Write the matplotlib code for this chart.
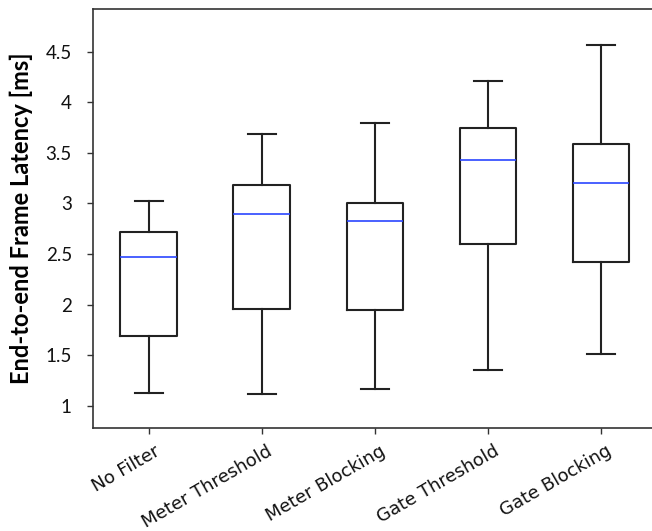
import matplotlib
matplotlib.use("Agg")
import matplotlib.pyplot as plt
import matplotlib.transforms as mtransforms

categories = ["No Filter", "Meter Threshold", "Meter Blocking", "Gate Threshold", "Gate Blocking"]
whisker_low = [1.13, 1.12, 1.17, 1.35, 1.51]
q1 = [1.69, 1.96, 1.95, 2.60, 2.42]
median = [2.47, 2.90, 2.83, 3.43, 3.20]
q3 = [2.72, 3.18, 3.00, 3.75, 3.59]
whisker_high = [3.02, 3.69, 3.80, 4.21, 4.57]
yticks = [1, 1.5, 2, 2.5, 3, 3.5, 4, 4.5]
ytick_labels = ["1", "1.5", "2", "2.5", "3", "3.5", "4", "4.5"]

stats = []
for i, name in enumerate(categories):
    stats.append(dict(label=name, whislo=whisker_low[i], q1=q1[i], med=median[i],
                      q3=q3[i], whishi=whisker_high[i], fliers=[]))

fig = plt.figure(figsize=(6.52, 5.31), dpi=100)
ax = fig.add_axes([0.1422, 0.1934, 0.8578, 0.7896])

line_col = "#222222"
ax.bxp(stats, widths=0.5, showfliers=False,
       boxprops=dict(color=line_col, linewidth=1.5),
       whiskerprops=dict(color=line_col, linewidth=1.5),
       capprops=dict(color=line_col, linewidth=1.5),
       medianprops=dict(color="#2a45ff", linewidth=1.2))

ax.set_xlim(0.505, 5.451)
ax.set_ylim(0.777, 4.922)
ax.set_yticks(yticks)
ax.set_yticklabels(ytick_labels, fontfamily="Lato", fontsize=13.5)
ax.tick_params(axis="y", direction="out", length=4, width=1, pad=11, colors="#333333", labelcolor="#111111")
ax.tick_params(axis="x", direction="out", length=4, width=1, pad=6, colors="#333333", labelcolor="#111111")

for lab in ax.get_xticklabels():
    lab.set_rotation(30)
    lab.set_rotation_mode("anchor")
    lab.set_ha("right")
    lab.set_va("top")
    lab.set_fontsize(13)
    lab.set_fontfamily("DejaVu Sans")
    lab.set_transform(lab.get_transform() + mtransforms.ScaledTranslation(5/100, 0, fig.dpi_scale_trans))

for s in ["left", "top", "bottom"]:
    ax.spines[s].set_linewidth(1.2)
    ax.spines[s].set_color("#333333")
ax.spines["right"].set_visible(False)

ax.set_ylabel("End-to-end Frame Latency [ms]", fontfamily="Lato", fontweight="bold", fontsize=17)
ax.yaxis.set_label_coords((33 - 92.7) / 559.3, 0.5)

fig.savefig("out.png", dpi=100)
